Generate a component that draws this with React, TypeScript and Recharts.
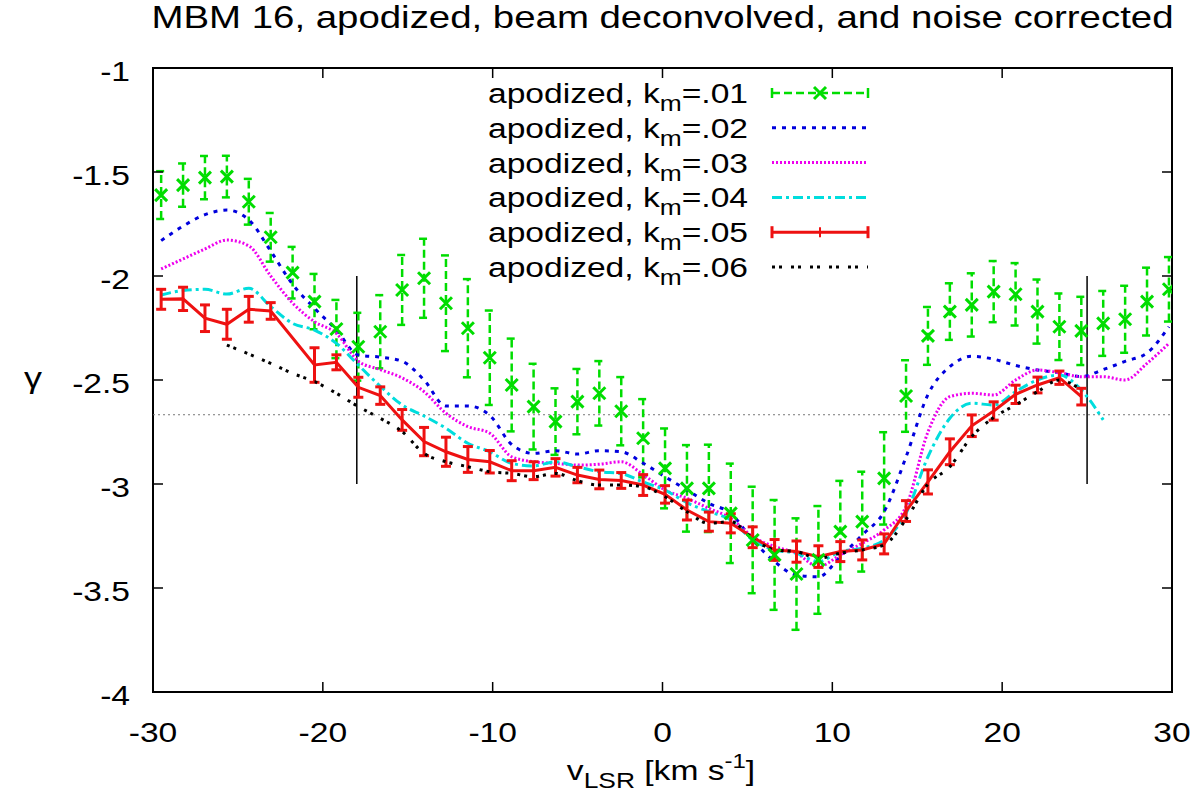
import React from 'react';
import { ComposedChart, Line, Scatter, XAxis, YAxis, ErrorBar, ReferenceLine, ReferenceArea } from 'recharts';

// velocity channels (km/s)
const VELOCITY = [
  -29.52, -28.23, -26.94, -25.65, -24.36, -23.07, -21.78, -20.49, -19.2, -17.91,
  -16.62, -15.33, -14.04, -12.75, -11.46, -10.17, -8.88, -7.59, -6.3, -5.01,
  -3.72, -2.43, -1.14, 0.15, 1.44, 2.73, 4.02, 5.31, 6.6, 7.89,
  9.18, 10.47, 11.76, 13.05, 14.34, 15.63, 16.92, 18.21, 19.5, 20.79,
  22.08, 23.37, 24.66, 25.95, 27.24, 28.53, 29.82,
];

// k_m = .01 (points with error bars)
const GAMMA_K01 = [
  -1.611, -1.563, -1.527, -1.522, -1.643, -1.814, -1.984, -2.123, -2.255, -2.34,
  -2.268, -2.067, -2.011, -2.131, -2.251, -2.393, -2.524, -2.628, -2.7, -2.604,
  -2.564, -2.65, -2.78, -2.925, -3.021, -3.021, -3.141, -3.269, -3.341, -3.433,
  -3.365, -3.229, -3.181, -2.973, -2.577, -2.288, -2.171, -2.139, -2.075, -2.088,
  -2.171, -2.244, -2.264, -2.228, -2.208, -2.123, -2.064,
];
const ERR_K01 = [
  0.115, 0.104, 0.104, 0.1, 0.11, 0.117, 0.124, 0.133, 0.14, 0.163,
  0.176, 0.168, 0.19, 0.23, 0.236, 0.227, 0.223, 0.206, 0.16, 0.157,
  0.155, 0.164, 0.188, 0.192, 0.208, 0.21, 0.239, 0.256, 0.264, 0.268,
  0.259, 0.244, 0.24, 0.222, 0.172, 0.139, 0.136, 0.152, 0.147, 0.15,
  0.154, 0.16, 0.164, 0.156, 0.161, 0.163, 0.155,
];

const GAMMA_K02 = [
  -1.83, -1.76, -1.705, -1.683, -1.73, -1.88, -2.04, -2.155, -2.26, -2.38,
  -2.39, -2.41, -2.5, -2.625, -2.625, -2.67, -2.81, -2.853, -2.84, -2.856,
  -2.84, -2.845, -2.9, -2.965, -3.029, -3.093, -3.141, -3.269, -3.373, -3.438,
  -3.446, -3.349, -3.245, -3.133, -2.87, -2.57, -2.436, -2.386, -2.4, -2.43,
  -2.452, -2.465, -2.484, -2.45, -2.41, -2.37, -2.244,
];

const GAMMA_K03 = [
  -1.966, -1.918, -1.87, -1.827, -1.855, -2.0, -2.13, -2.22, -2.276, -2.41,
  -2.45, -2.49, -2.556, -2.66, -2.724, -2.756, -2.869, -2.893, -2.901, -2.909,
  -2.905, -2.893, -2.955, -3.029, -3.069, -3.117, -3.165, -3.253, -3.301, -3.333,
  -3.397, -3.341, -3.285, -3.221, -3.109, -2.75, -2.58, -2.564, -2.572, -2.5,
  -2.452, -2.465, -2.484, -2.484, -2.5, -2.42, -2.324,
];

const GAMMA_K04 = [
  -2.091, -2.07, -2.064, -2.087, -2.059, -2.147, -2.228, -2.26, -2.324, -2.428,
  -2.53, -2.62, -2.673, -2.732, -2.804, -2.845, -2.901, -2.913, -2.893, -2.917,
  -2.941, -2.95, -2.99, -3.029, -3.09, -3.133, -3.173, -3.269, -3.317, -3.333,
  -3.373, -3.325, -3.309, -3.269, -3.141, -2.869, -2.684, -2.612, -2.62, -2.556,
  -2.5, -2.476, -2.548, -2.692,
];

// k_m = .05 (line with error bars), one channel missing
const GAMMA_K05 = [
  -2.112, -2.11, -2.203, -2.232, -2.16, -2.168, null, -2.428, -2.415, -2.535,
  -2.575, -2.692, -2.796, -2.845, -2.882, -2.893, -2.936, -2.936, -2.92, -2.957,
  -2.978, -2.983, -3.005, -3.05, -3.125, -3.181, -3.189, -3.256, -3.317, -3.325,
  -3.349, -3.325, -3.317, -3.288, -3.13, -2.99, -2.845, -2.72, -2.649, -2.569,
  -2.524, -2.489, -2.58,
];
const ERR_K05 = [
  0.048, 0.056, 0.064, 0.072, 0.062, 0.04, null, 0.083, 0.036, 0.048,
  0.042, 0.05, 0.068, 0.07, 0.062, 0.054, 0.048, 0.043, 0.042, 0.037,
  0.045, 0.038, 0.05, 0.042, 0.048, 0.046, 0.046, 0.05, 0.05, 0.051,
  0.052, 0.048, 0.048, 0.048, 0.05, 0.058, 0.062, 0.052, 0.044, 0.044,
  0.038, 0.032, 0.04,
];

const GAMMA_K06 = [
  null, null, null, -2.332, -2.375, -2.42, -2.468, -2.508, -2.564, -2.628,
  -2.684, -2.748, -2.853, -2.893, -2.917, -2.941, -2.949, -2.965, -2.949, -2.984,
  -3.005, -3.005, -3.013, -3.061, -3.133, -3.189, -3.181, -3.261, -3.317, -3.325,
  -3.357, -3.333, -3.317, -3.293, -3.17, -3.0, -2.917, -2.772, -2.68, -2.62,
  -2.556, -2.5, -2.548,
];

const X_TICKS = [-30, -20, -10, 0, 10, 20, 30];
const Y_TICKS = [-4, -3.5, -3, -2.5, -2, -1.5, -1];
const KOLMOGOROV = -2.667;
const MARKER_VELOCITIES = [-18, 25];
const MARKER_RANGE = [-2, -3];

const LEGEND_LABELS = ['.01', '.02', '.03', '.04', '.05', '.06'];

const GREEN = '#00dd00';
const BLUE = '#0000dd';
const MAGENTA = '#ee00ee';
const CYAN = '#00dddd';
const RED = '#ee1111';

const PLOT_TOP = 68;
const PLOT_LEFT = 153;
const PLOT_RIGHT = 1172;
const FONT = '"Liberation Sans", Arial, sans-serif';
const SX = 1.2;

const rows = VELOCITY.map((v, i) => ({
  v,
  k01: GAMMA_K01[i] ?? null,
  k01Err: ERR_K01[i] ?? null,
  k02: GAMMA_K02[i] ?? null,
  k03: GAMMA_K03[i] ?? null,
  k04: GAMMA_K04[i] ?? null,
  k05: GAMMA_K05[i] ?? null,
  k05Err: ERR_K05[i] ?? null,
  k06: GAMMA_K06[i] ?? null,
}));

const XTick = (props: any) => {
  const { x, y, payload } = props;
  return (
    <g>
      <line x1={x} x2={x} y1={y} y2={y - 10} stroke="#000" strokeWidth={1.5} />
      <line x1={x} x2={x} y1={PLOT_TOP} y2={PLOT_TOP + 10} stroke="#000" strokeWidth={1.5} />
      <text transform={`translate(${x} ${y + 50}) scale(${SX} 1)`} textAnchor="middle" fontSize={28} fontFamily={FONT} fill="#000">
        {payload.value}
      </text>
    </g>
  );
};

const YTick = (props: any) => {
  const { x, y, payload } = props;
  return (
    <g>
      <line x1={x} x2={x + 10} y1={y} y2={y} stroke="#000" strokeWidth={1.5} />
      <line x1={PLOT_RIGHT} x2={PLOT_RIGHT - 10} y1={y} y2={y} stroke="#000" strokeWidth={1.5} />
      <text transform={`translate(${x - 23} ${y + 13}) scale(${SX} 1)`} textAnchor="end" fontSize={28} fontFamily={FONT} fill="#000">
        {payload.value}
      </text>
    </g>
  );
};

const Cross = (props: any) => {
  const { cx, cy } = props;
  if (cx == null || cy == null) return null;
  const s = 6;
  return (
    <g stroke={GREEN} strokeWidth={3}>
      <line x1={cx - s} y1={cy - s} x2={cx + s} y2={cy + s} />
      <line x1={cx - s} y1={cy + s} x2={cx + s} y2={cy - s} />
    </g>
  );
};

const LegendSample = ({ idx, y }: { idx: number; y: number }) => {
  const x1 = 772;
  const x2 = 868;
  const mid = (x1 + x2) / 2;
  if (idx === 0) {
    return (
      <g stroke={GREEN} strokeWidth={2.5}>
        <line x1={x1} x2={x2} y1={y} y2={y} strokeDasharray="8 4" />
        <line x1={x1} x2={x1} y1={y - 5} y2={y + 5} />
        <line x1={x2} x2={x2} y1={y - 5} y2={y + 5} />
        <line x1={mid - 6} y1={y - 6} x2={mid + 6} y2={y + 6} strokeWidth={3} />
        <line x1={mid - 6} y1={y + 6} x2={mid + 6} y2={y - 6} strokeWidth={3} />
      </g>
    );
  }
  if (idx === 4) {
    return (
      <g stroke={RED} strokeWidth={3}>
        <line x1={x1} x2={x2} y1={y} y2={y} />
        <line x1={x1} x2={x1} y1={y - 6} y2={y + 6} />
        <line x1={x2} x2={x2} y1={y - 6} y2={y + 6} />
        <line x1={mid} x2={mid} y1={y - 5} y2={y + 5} strokeWidth={2} />
      </g>
    );
  }
  const styles: Record<number, { stroke: string; dash: string }> = {
    1: { stroke: BLUE, dash: '4 6' },
    2: { stroke: MAGENTA, dash: '2 2' },
    3: { stroke: CYAN, dash: '10 4 3 4' },
    5: { stroke: '#000', dash: '3 4 3 9' },
  };
  const st = styles[idx];
  return <line x1={x1} x2={x2} y1={y} y2={y} stroke={st.stroke} strokeWidth={3} strokeDasharray={st.dash} />;
};

const Overlay = () => (
  <svg width={1200} height={805} style={{ position: 'absolute', left: 0, top: 0, pointerEvents: 'none' }}>
    <text transform={`translate(${(PLOT_LEFT + PLOT_RIGHT) / 2} 28) scale(${SX} 1)`} textAnchor="middle" fontSize={32} fontFamily={FONT} fill="#000">
      MBM 16, apodized, beam deconvolved, and noise corrected
    </text>
    <text transform={`translate(33 388) scale(${SX} 1)`} textAnchor="middle" fontSize={30} fontFamily={FONT} fill="#000">
      γ
    </text>
    <text transform={`translate(661 780) scale(${SX} 1)`} textAnchor="middle" fontSize={28} fontFamily={FONT} fill="#000">
      v<tspan fontSize={22} dy={8}>LSR</tspan>
      <tspan dy={-8}> [km s</tspan>
      <tspan fontSize={20} dy={-12}>-1</tspan>
      <tspan dy={12}>]</tspan>
    </text>
    {LEGEND_LABELS.map((lab, i) => {
      const y = 93 + i * 34.8;
      return (
        <g key={lab}>
          <text transform={`translate(748 ${y + 10}) scale(${SX} 1)`} textAnchor="end" fontSize={28} fontFamily={FONT} fill="#000">
            apodized, k<tspan fontSize={22} dy={8}>m</tspan>
            <tspan dy={-8}>={lab}</tspan>
          </text>
          <LegendSample idx={i} y={y} />
        </g>
      );
    })}
  </svg>
);

export default function App() {
  return (
    <div style={{ position: 'absolute', left: 0, top: 0, width: 1200, height: 805, background: '#fff' }}>
      <ComposedChart width={1200} height={805} data={rows} margin={{ top: 68, right: 28, bottom: 53, left: 53 }}>
        <XAxis
          type="number"
          dataKey="v"
          domain={[-30, 30]}
          ticks={X_TICKS}
          interval={0}
          height={60}
          tickSize={0}
          tickMargin={0}
          axisLine={false}
          tick={<XTick />}
          allowDataOverflow
        />
        <YAxis
          type="number"
          domain={[-4, -1]}
          ticks={Y_TICKS}
          interval={0}
          width={100}
          tickSize={0}
          tickMargin={0}
          axisLine={false}
          tick={<YTick />}
          allowDataOverflow
        />
        <ReferenceArea x1={-30} x2={30} y1={-4} y2={-1} fill="none" fillOpacity={0} stroke="#000" strokeWidth={2} />
        <ReferenceLine y={KOLMOGOROV} stroke="#777" strokeWidth={1} strokeDasharray="2 3" />
        {MARKER_VELOCITIES.map((mv) => (
          <ReferenceLine
            key={mv}
            segment={[{ x: mv, y: MARKER_RANGE[0] }, { x: mv, y: MARKER_RANGE[1] }]}
            stroke="#000"
            strokeWidth={1.5}
          />
        ))}
        <Scatter dataKey="k01" shape={<Cross />} isAnimationActive={false}>
          <ErrorBar dataKey="k01Err" direction="y" width={5} stroke={GREEN} strokeWidth={2.5} strokeDasharray="8 4" />
        </Scatter>
        <Line dataKey="k02" type="monotone" stroke={BLUE} strokeWidth={3} strokeDasharray="4 6" dot={false} isAnimationActive={false} />
        <Line dataKey="k03" type="monotone" stroke={MAGENTA} strokeWidth={3} strokeDasharray="2 2" dot={false} isAnimationActive={false} />
        <Line dataKey="k04" type="monotone" stroke={CYAN} strokeWidth={3} strokeDasharray="10 4 3 4" dot={false} isAnimationActive={false} />
        <Line dataKey="k05" type="linear" stroke={RED} strokeWidth={3} dot={false} connectNulls isAnimationActive={false}>
          <ErrorBar dataKey="k05Err" direction="y" width={5} stroke={RED} strokeWidth={3} />
        </Line>
        <Line dataKey="k06" type="monotone" stroke="#000" strokeWidth={3} strokeDasharray="3 4 3 9" dot={false} isAnimationActive={false} />
      </ComposedChart>
      <Overlay />
    </div>
  );
}
